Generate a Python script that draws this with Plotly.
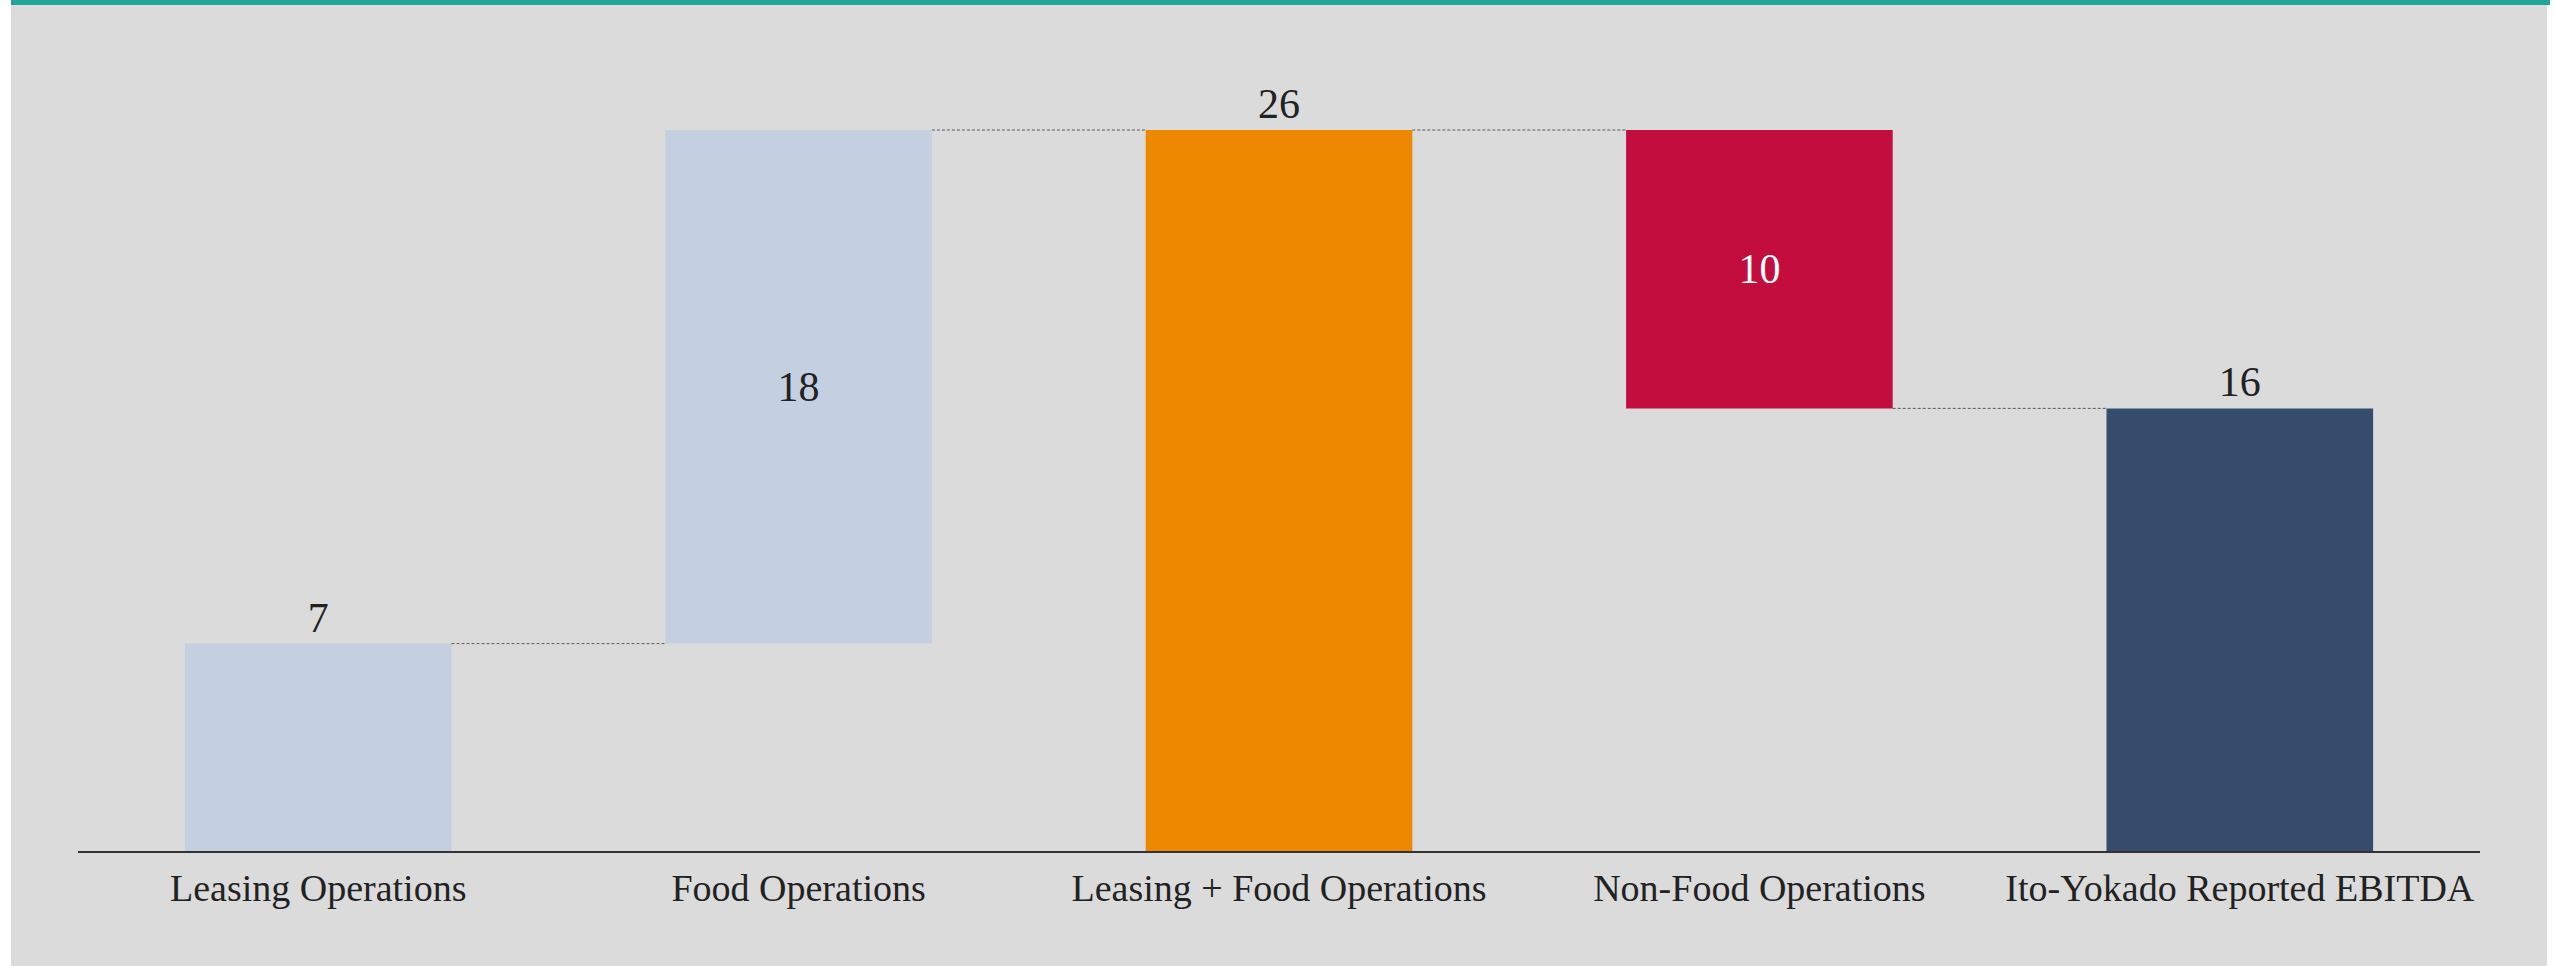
import plotly.graph_objects as go

# Bridge from segment EBITDA to the reported figure
categories = [
    "Leasing Operations",
    "Food Operations",
    "Leasing + Food Operations",
    "Non-Food Operations",
    "Ito-Yokado Reported EBITDA",
]
measures = ["absolute", "relative", "total", "relative", "total"]
changes = [7.45, 18.45, None, -10.0, None]

bar_colors = ["#c4cfe0", "#c4cfe0", "#ee8800", "#c20d3e", "#364c6c"]
text_colors = ["#222222", "#222222", "#222222", "#ffffff", "#222222"]
text_positions = ["outside", "inside", "outside", "inside", "outside"]

FONT = "Liberation Serif"
W, H = 2555, 966
M_L, M_R, M_T, M_B = 78, 75, 40, 115
BAR_W = 0.555

# Waterfall geometry: base/height of each bar plus the level where it ends
bases, heights, ends, labels = [], [], [], []
running = 0.0
for m, c in zip(measures, changes):
    if m == "absolute":
        running = c
        bases.append(0.0)
        heights.append(c)
    elif m == "total":
        bases.append(0.0)
        heights.append(running)
    else:
        start = running
        running = running + c
        bases.append(min(start, running))
        heights.append(abs(c))
    ends.append(running)
    labels.append(f"{heights[-1]:.0f}")

xs = list(range(len(categories)))

fig = go.Figure()

# Dashed connectors between consecutive bars
for i in range(len(xs) - 1):
    level = ends[i]
    fig.add_trace(go.Scatter(
        x=[xs[i] + BAR_W / 2, xs[i + 1] - BAR_W / 2],
        y=[level, level],
        mode="lines",
        line=dict(color="#5a5a5a", width=1, dash="3px,2px"),
        hoverinfo="skip",
        showlegend=False,
    ))

fig.add_trace(go.Bar(
    x=xs,
    y=heights,
    base=bases,
    width=BAR_W,
    marker=dict(color=bar_colors, line=dict(width=0)),
    text=labels,
    texttemplate="%{text}",
    textposition=text_positions,
    insidetextanchor="middle",
    textangle=0,
    textfont=dict(family=FONT, size=42, color=text_colors),
    constraintext="none",
    cliponaxis=False,
    showlegend=False,
))

plot_h = H - M_T - M_B
px_per_unit = (851 - 130) / ends[2]
y_top = plot_h / px_per_unit

fig.update_layout(
    width=W,
    height=H,
    margin=dict(l=M_L, r=M_R, t=M_T, b=M_B),
    paper_bgcolor="#dbdbdb",
    plot_bgcolor="#dbdbdb",
    font=dict(family=FONT, color="#222222"),
    bargap=0.445,
    xaxis=dict(
        tickmode="array",
        tickvals=xs,
        ticktext=categories,
        range=[-0.5, len(xs) - 0.5],
        showline=True,
        linecolor="#333333",
        linewidth=2,
        ticks="",
        ticklabelstandoff=2,
        showgrid=False,
        zeroline=False,
        tickfont=dict(family=FONT, size=38, color="#222222"),
        fixedrange=True,
    ),
    yaxis=dict(
        range=[0, y_top],
        showgrid=False,
        zeroline=False,
        showticklabels=False,
        showline=False,
        fixedrange=True,
    ),
    shapes=[
        # white strips at the left and right edges of the panel
        dict(type="rect", xref="paper", yref="paper",
             xsizemode="pixel", ysizemode="pixel", xanchor=0, yanchor=0,
             x0=-M_L, x1=-M_L + 11, y0=-M_B, y1=plot_h + M_T,
             fillcolor="#ffffff", line=dict(width=0), layer="below"),
        dict(type="rect", xref="paper", yref="paper",
             xsizemode="pixel", ysizemode="pixel", xanchor=0, yanchor=0,
             x0=2547 - M_L, x1=W - M_L, y0=-M_B, y1=plot_h + M_T,
             fillcolor="#ffffff", line=dict(width=0), layer="below"),
        # teal rule across the top of the panel
        dict(type="rect", xref="paper", yref="paper",
             xsizemode="pixel", ysizemode="pixel", xanchor=0, yanchor=1,
             x0=-M_L + 11, x1=2550 - M_L, y0=M_T - 5, y1=M_T,
             fillcolor="#22a699", line=dict(width=0), layer="above"),
    ],
)

fig.write_html("out.html")
